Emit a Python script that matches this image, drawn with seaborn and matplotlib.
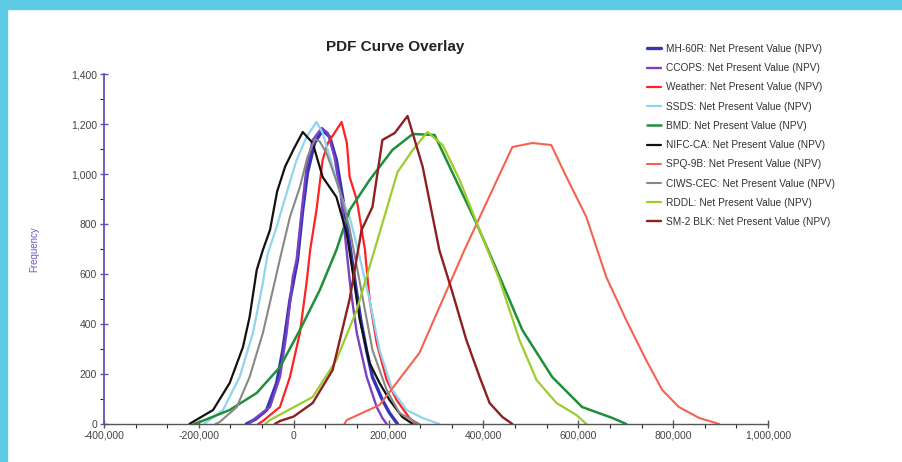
import numpy as np
import pandas as pd
import matplotlib
matplotlib.use('Agg')
import matplotlib.pyplot as plt
import seaborn as sns
from matplotlib.ticker import MultipleLocator, FuncFormatter
from matplotlib.patches import Rectangle

sns.set_theme(style = 'white')
plt.rcParams['font.family'] = ['Liberation Sans', 'DejaVu Sans']

# values (x in thousands of dollars, y = frequency)
mh60r_x = [-100, -80, -57, -36, -23, -8, 8, 19, 29, 44, 61, 76, 90, 103, 118, 130, 141, 154, 166, 187, 202, 219]
mh60r_y = [0, 20, 56, 164, 296, 496, 656, 856, 1004, 1124, 1176, 1148, 1056, 908, 720, 560, 420, 290, 188, 96, 44, 0]

ccops_x = [-95, -86, -50, -29, -15, -2, 6, 17, 27, 40, 59, 72, 86, 100, 110, 120, 133, 154, 175, 187, 196]
ccops_y = [0, 16, 68, 188, 364, 588, 656, 856, 1028, 1136, 1184, 1164, 1068, 900, 720, 540, 364, 188, 68, 24, 0]

weather_x = [-75, -65, -29, -8, 13, 27, 35, 48, 61, 72, 86, 101, 112, 118, 133, 150, 160, 175, 196, 217, 244, 259]
weather_y = [0, 12, 68, 188, 364, 564, 700, 856, 1056, 1124, 1164, 1208, 1124, 988, 896, 700, 496, 324, 176, 96, 24, 0]

ssds_x = [-190, -183, -149, -114, -86, -65, -55, -36, -15, 6, 27, 48, 61, 80, 97, 118, 139, 160, 181, 208, 238, 272, 307]
ssds_y = [0, 8, 56, 188, 364, 564, 680, 788, 924, 1056, 1148, 1208, 1164, 1044, 924, 828, 668, 496, 296, 136, 56, 24, 0]

bmd_x = [-210, -198, -135, -78, -29, 13, 55, 90, 118, 160, 208, 251, 297, 349, 385, 419, 482, 545, 608, 672, 701]
bmd_y = [0, 8, 56, 124, 228, 376, 536, 696, 856, 976, 1096, 1160, 1156, 948, 804, 656, 376, 188, 68, 24, 0]

nifc_x = [-220, -213, -170, -135, -107, -93, -78, -65, -50, -35, -18, 0, 19, 40, 61, 90, 112, 125, 139, 160, 181, 202, 229, 251]
nifc_y = [0, 8, 56, 164, 308, 428, 616, 696, 776, 930, 1030, 1100, 1168, 1124, 988, 908, 760, 600, 420, 244, 164, 96, 28, 0]

spq_x = [107, 112, 181, 265, 360, 461, 503, 543, 575, 617, 659, 701, 743, 777, 812, 855, 897]
spq_y = [0, 16, 76, 284, 696, 1108, 1124, 1116, 988, 828, 588, 416, 256, 136, 68, 24, 0]

ciws_x = [-165, -156, -120, -93, -65, -44, -29, -8, 13, 29, 45, 55, 69, 97, 118, 140, 166, 196, 223, 265]
ciws_y = [0, 8, 68, 188, 364, 536, 660, 828, 948, 1068, 1140, 1130, 1084, 936, 780, 560, 296, 136, 44, 0]

rddl_x = [-60, -50, 40, 90, 133, 166, 219, 251, 282, 314, 349, 392, 434, 476, 512, 554, 596, 617]
rddl_y = [0, 16, 108, 256, 456, 668, 1008, 1096, 1168, 1116, 980, 776, 576, 336, 176, 84, 36, 0]

sm2_x = [-40, -29, 0, 40, 82, 118, 143, 166, 187, 213, 240, 272, 307, 335, 364, 392, 413, 440, 461]
sm2_y = [0, 12, 30, 84, 216, 500, 776, 868, 1136, 1164, 1232, 1028, 696, 524, 336, 188, 84, 28, 0]

names = ['MH-60R', 'CCOPS', 'Weather', 'SSDS', 'BMD', 'NIFC-CA', 'SPQ-9B', 'CIWS-CEC', 'RDDL', 'SM-2 BLK']
xs = [mh60r_x, ccops_x, weather_x, ssds_x, bmd_x, nifc_x, spq_x, ciws_x, rddl_x, sm2_x]
ys = [mh60r_y, ccops_y, weather_y, ssds_y, bmd_y, nifc_y, spq_y, ciws_y, rddl_y, sm2_y]
colors = ['#3434b4', '#7a42c2', '#ff2222', '#8fd4f0', '#1f8f3a', '#111111', '#f5634f', '#888888', '#9dcc2e', '#8e1f22']
widths = [2.4, 1.7, 1.6, 1.6, 1.8, 1.6, 1.5, 1.5, 1.6, 1.7]

fig = plt.figure(figsize = (9.03, 4.62), dpi = 100)
fig.patch.set_facecolor('white')
ax = fig.add_axes([104 / 903, 1 - 424 / 462, 664 / 903, 350 / 462])

for name, x, y, c, lw in zip(names, xs, ys, colors, widths):
    sns.lineplot(x = np.array(x) * 1000, y = y, color = c, linewidth = lw, sort = False,
                 label = name + ': Net Present Value (NPV)', ax = ax, legend = False)

ax.set_xlim(-400000, 1000000)
ax.set_ylim(0, 1400)
ax.xaxis.set_major_locator(MultipleLocator(200000))
ax.xaxis.set_minor_locator(MultipleLocator(200000 / 3))
ax.yaxis.set_major_locator(MultipleLocator(200))
ax.yaxis.set_minor_locator(MultipleLocator(100))
fmt = FuncFormatter(lambda v, p: f'{v:,.0f}')
ax.xaxis.set_major_formatter(fmt)
ax.yaxis.set_major_formatter(fmt)
ax.tick_params(axis = 'both', which = 'major', direction = 'inout', length = 6, width = 1,
               labelsize = 7.5, labelcolor = '#444444', pad = 2, bottom = True, left = True)
ax.tick_params(axis = 'both', which = 'minor', direction = 'out', length = 3, width = 0.8,
               bottom = True, left = True)
ax.tick_params(axis = 'x', colors = '#555555', labelcolor = '#444444')
ax.tick_params(axis = 'y', colors = '#6a4fb8', labelcolor = '#444444')
for s in ['top', 'right']:
    ax.spines[s].set_visible(False)
ax.spines['left'].set_color('#6a4fb8')
ax.spines['left'].set_linewidth(1.3)
ax.spines['bottom'].set_color('#555555')
ax.spines['bottom'].set_linewidth(1)
ax.set_facecolor('white')
ax.set_xlabel('')
ax.set_ylabel('Frequency', fontsize = 7, color = '#6a5acd', labelpad = 23)

fig.text(395 / 903, 1 - 47 / 462, 'PDF Curve Overlay', ha = 'center', va = 'center',
         fontsize = 11, fontweight = 'bold', color = '#222222')

handles, labels = ax.get_legend_handles_labels()
fig.legend(handles, labels, loc = 'upper left', bbox_to_anchor = (647 / 903, 1 - 44 / 462),
           frameon = False, fontsize = 7.3, handlelength = 1.4, handletextpad = 0.5,
           labelspacing = 0.91, labelcolor = '#333333', borderaxespad = 0, borderpad = 0)

fig.patches.append(Rectangle((0, 1 - 9 / 462), 1, 9 / 462, transform = fig.transFigure,
                             color = '#5ecbe6', zorder = 10))
fig.patches.append(Rectangle((0, 0), 7 / 903, 1, transform = fig.transFigure,
                             color = '#5ecbe6', zorder = 10))

fig.savefig('out.png', dpi = 100)
